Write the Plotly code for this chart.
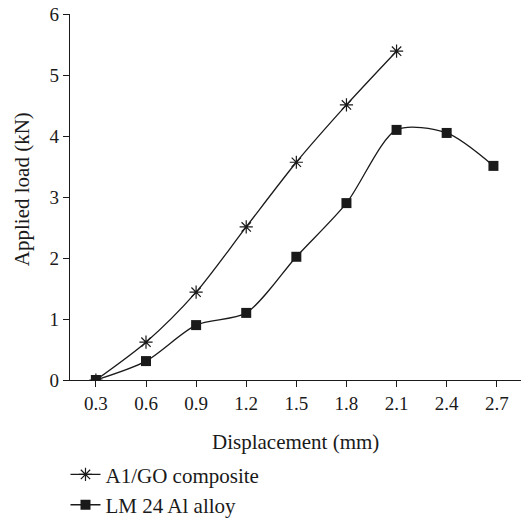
import plotly.graph_objects as go

x_comp = [0.3, 0.6, 0.9, 1.2, 1.5, 1.8, 2.1]
y_comp = [0.0, 0.62, 1.44, 2.51, 3.57, 4.51, 5.39]

x_alloy = [0.3, 0.6, 0.9, 1.2, 1.5, 1.8, 2.1, 2.4, 2.68]
y_alloy = [0.0, 0.31, 0.90, 1.10, 2.02, 2.90, 4.10, 4.05, 3.51]

x_ticks = [0.3, 0.6, 0.9, 1.2, 1.5, 1.8, 2.1, 2.4, 2.7]
x_ticklabels = ["0.3", "0.6", "0.9", "1.2", "1.5", "1.8", "2.1", "2.4", "2.7"]

FONT = "Liberation Serif"
INK = "#1a1a1a"

fig = go.Figure()
fig.add_trace(go.Scatter(
    x=x_comp, y=y_comp, name="A1/GO composite", mode="lines+markers", legendgroup="a",
    line=dict(color=INK, width=1.3, shape="spline", smoothing=0.8),
    marker=dict(symbol="asterisk-open", size=11, color=INK, line=dict(color=INK, width=1.2)),
))
fig.add_trace(go.Scatter(
    x=x_alloy, y=y_alloy, name="LM 24 Al alloy", mode="lines+markers", legendgroup="b",
    line=dict(color=INK, width=1.3, shape="spline", smoothing=0.8),
    marker=dict(symbol="square", size=10, color=INK),
))

fig.update_layout(
    width=521, height=519,
    margin=dict(l=70, r=0, t=14, b=139, autoexpand=False),
    paper_bgcolor="white", plot_bgcolor="white",
    font=dict(family=FONT, size=19, color=INK),
    showlegend=True,
    legend=dict(x=-0.01, xanchor="left", y=-0.203, yanchor="top",
                bgcolor="rgba(0,0,0,0)", font=dict(family=FONT, size=21, color=INK),
                itemwidth=30, traceorder="grouped", tracegroupgap=0),
    annotations=[
        dict(text="Displacement (mm)", xref="paper", yref="paper", x=0.499, y=-0.169,
             xanchor="center", yanchor="middle", showarrow=False,
             font=dict(family=FONT, size=21, color=INK)),
        dict(text="Applied load (kN)", xref="paper", yref="paper", x=-0.106, y=0.522,
             xanchor="center", yanchor="middle", showarrow=False, textangle=-90,
             font=dict(family=FONT, size=21, color=INK)),
    ],
)
fig.update_xaxes(
    range=[0.145, 2.845], tickvals=x_ticks, ticktext=x_ticklabels, automargin=False,
    showline=True, linecolor=INK, linewidth=1.2, ticks="outside", ticklen=6,
    tickcolor=INK, showgrid=False, zeroline=False, tickfont=dict(size=19),
)
fig.update_yaxes(
    range=[0, 6], dtick=1, tick0=0, automargin=False,
    showline=True, linecolor=INK, linewidth=1.2, ticks="outside", ticklen=6,
    tickcolor=INK, showgrid=False, zeroline=False, tickfont=dict(size=19),
)

fig.write_html("out.html")
